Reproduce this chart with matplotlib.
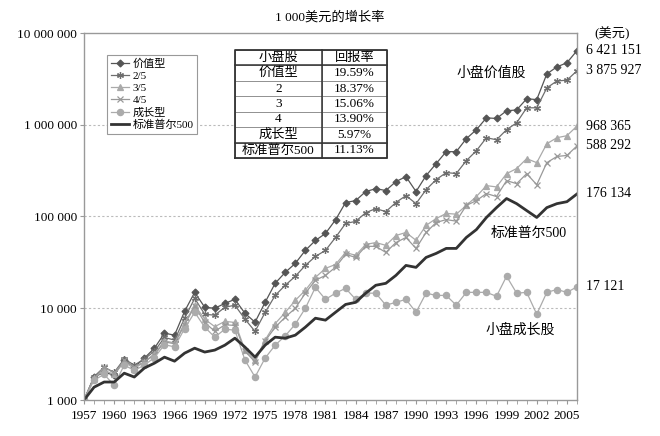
import matplotlib
matplotlib.use("Agg")
import matplotlib.pyplot as plt
import numpy as np

plt.rcParams['font.family'] = ['Liberation Serif', 'Noto Sans CJK SC', 'DejaVu Sans']

years = list(range(1957, 2007))

# 1 000 美元的增长 (年末值)
value = [1000, 1780, 2000, 1870, 2720, 2280, 2860, 3670, 5350, 5090,
         9270, 14900, 10250, 10000, 11300, 12500, 8800, 7050, 11600, 18700,
         24600, 30800, 42700, 54800, 65300, 92000, 142000, 149000, 187000, 201000,
         192000, 240000, 272000, 187000, 279000, 377000, 509000, 509000, 705000, 883000,
         1190000, 1170000, 1420000, 1450000, 1920000, 1880000, 3580000, 4270000, 4740000, 6421151]
q2 = [1000, 1800, 2280, 2000, 2800, 2400, 2800, 3400, 4800, 4500,
      7800, 12800, 8600, 8400, 10250, 10800, 7600, 5600, 9000, 13800,
      17800, 22300, 29300, 36700, 42700, 59100, 84000, 88400, 110000, 122000,
      113000, 142000, 169000, 138000, 196000, 252000, 301000, 294000, 406000, 521000,
      722000, 686000, 883000, 1050000, 1530000, 1530000, 2520000, 3000000, 3060000, 3875927]
q3 = [1000, 1750, 2100, 1900, 2600, 2200, 2600, 3200, 4400, 4200,
      6900, 10800, 7600, 6300, 7200, 7000, 3500, 2700, 4500, 6800,
      9000, 12200, 15700, 21700, 27200, 30000, 40600, 37700, 49600, 52000,
      48500, 62000, 67000, 55000, 80000, 95000, 108000, 106000, 132000, 165000,
      217000, 210000, 293000, 333000, 427000, 386000, 621000, 722000, 760000, 968365]
q4 = [1000, 1700, 2300, 1950, 2700, 2300, 2600, 3100, 4300, 4100,
      6600, 10500, 7000, 5600, 6600, 6500, 3400, 2600, 4400, 6200,
      8000, 10000, 14600, 20200, 22800, 28000, 38700, 35800, 47300, 47300,
      40600, 52000, 59100, 44900, 67000, 86000, 92500, 89000, 132000, 149000,
      178000, 165000, 246000, 228000, 293000, 222000, 386000, 451000, 463000, 588292]
growth = [1000, 1650, 1900, 1450, 2400, 2100, 2400, 2900, 4000, 3800,
          6000, 9040, 6220, 4840, 5910, 5770, 2720, 1780, 2860, 3960,
          5000, 6700, 10000, 16900, 12500, 14600, 16500, 12500, 14600, 14600,
          10800, 11600, 12500, 9040, 14600, 13800, 13800, 10800, 14900, 14900,
          14900, 13500, 22300, 14600, 14900, 8600, 14900, 16000, 14900, 17121]
sp500 = [1000, 1380, 1570, 1570, 1960, 1780, 2230, 2520, 2930, 2650,
         3240, 3670, 3330, 3500, 3960, 4720, 3770, 2930, 3960, 4840,
         4720, 5090, 6220, 7790, 7420, 9040, 11000, 11600, 14600, 17800,
         18700, 22800, 29300, 27900, 35800, 39600, 44900, 44900, 59100, 72000,
         97600, 125000, 157000, 138000, 116000, 97600, 125000, 138000, 145000, 176134]

legend_names = ['价值型', '2/5', '3/5', '4/5', '成长型', '标准普尔500']
table_rows = ['价值型', '2', '3', '4', '成长型', '标准普尔500']
table_returns = ['19.59%', '18.37%', '15.06%', '13.90%', '5.97%', '11.13%']
end_labels = ['6 421 151', '3 875 927', '968 365', '588 292', '176 134', '17 121']
ytick_vals = [1e3, 1e4, 1e5, 1e6, 1e7]
ytick_labels = ['1 000', '10 000', '100 000', '1 000 000', '10 000 000']
xtick_years = list(range(1957, 2006, 3))

fig = plt.figure(figsize=(6.6, 4.36), dpi=100)
ax = fig.add_axes([84/660, 36/436, 493/660, 367/436])

series = [value, q2, q3, q4, growth]
colors = ['#555555', '#6e6e6e', '#aaaaaa', '#999999', '#ababab']
markers = ['D', (6, 2, 0), '^', 'x', 'o']
msizes = [3.5, 5, 4, 4.5, 4.5]
lines = []
for s, c, m, ms, name in zip(series, colors, markers, msizes, legend_names):
    l, = ax.plot(years, s, color=c, marker=m, markersize=ms, lw=0.9,
                 markeredgewidth=0.9, label=name)
    lines.append(l)
l, = ax.plot(years, sp500, color='#333333', lw=2, label=legend_names[-1])
lines.append(l)

ax.set_yscale('log')
ax.set_ylim(1000, 1e7)
ax.set_xlim(1957, 2006)
ax.set_yticks(ytick_vals)
ax.set_yticklabels(ytick_labels, fontsize=9.5)
ax.yaxis.set_minor_locator(matplotlib.ticker.NullLocator())
ax.tick_params(axis='y', length=3, color='#999999', pad=2)
ax.set_xticks(xtick_years)
ax.set_xticklabels([str(y) for y in xtick_years], fontsize=9.5)
ax.set_xticks(years, minor=True)
ax.tick_params(axis='x', which='both', length=3, color='#999999', pad=4)
for yv in [1e4, 1e5, 1e6]:
    ax.axhline(yv, color='#bbbbbb', lw=0.8, ls=(0, (2, 2)), zorder=0)
for sp in ax.spines.values():
    sp.set_color('#999999')
    sp.set_linewidth(1)

leg = ax.legend(handles=lines, loc='upper left', bbox_to_anchor=(0.036, 0.955),
                fontsize=8, handlelength=1.6, handletextpad=0.3, labelspacing=0.2,
                borderpad=0.35, fancybox=False, edgecolor='#999999', framealpha=1)
leg.get_frame().set_linewidth(0.8)

# 表格
cell_text = [['小盘股', '回报率']] + [[a, b] for a, b in zip(table_rows, table_returns)]
tb = ax.table(cellText=cell_text, cellLoc='center', colWidths=[0.572, 0.428],
              bbox=[0.306, 0.659, 0.309, 0.295], zorder=5)
tb.auto_set_font_size(False)
tb.set_fontsize(9.5)
for (r, c), cell in tb.get_celld().items():
    cell.set_edgecolor('#888888')
    cell.set_linewidth(0.6)
    cell.set_facecolor('white')
# 外框和分隔线
x0, x1 = 0.306, 0.615
y0, y1 = 0.659, 0.954
rh = (y1 - y0) / 7
ax.plot([x0, x1, x1, x0, x0], [y0, y0, y1, y1, y0], transform=ax.transAxes,
        color='#333333', lw=1.3, zorder=6, clip_on=False)
ax.plot([x0, x1], [y1 - rh, y1 - rh], transform=ax.transAxes, color='#333333', lw=1.1, zorder=6)
ax.plot([x0, x1], [y0 + rh, y0 + rh], transform=ax.transAxes, color='#333333', lw=1.1, zorder=6)
ax.plot([x0 + 0.309 * 0.572] * 2, [y0, y1], transform=ax.transAxes, color='#333333', lw=1.1, zorder=6)

# 右侧数值
for s, txt in zip([value, q2, q3, q4, sp500, growth], end_labels):
    ax.annotate(txt, xy=(years[-1], s[-1]), xytext=(6.5, 0), textcoords='offset points',
                va='center', ha='left', fontsize=10, annotation_clip=False)
ax.text(1.036, 1.0, '(美元)', transform=ax.transAxes, fontsize=9.5, va='center', ha='left')

ax.text(1994.0, 3600000, '小盘价值股', fontsize=10, ha='left', va='center')
ax.text(1997.4, 65000, '标准普尔500', fontsize=10, ha='left', va='center')
ax.text(1996.9, 5800, '小盘成长股', fontsize=10, ha='left', va='center')

fig.text(330/660, 1 - 17/436, '1 000美元的增长率', ha='center', va='center', fontsize=9.5)

fig.savefig('out.png', dpi=100)
